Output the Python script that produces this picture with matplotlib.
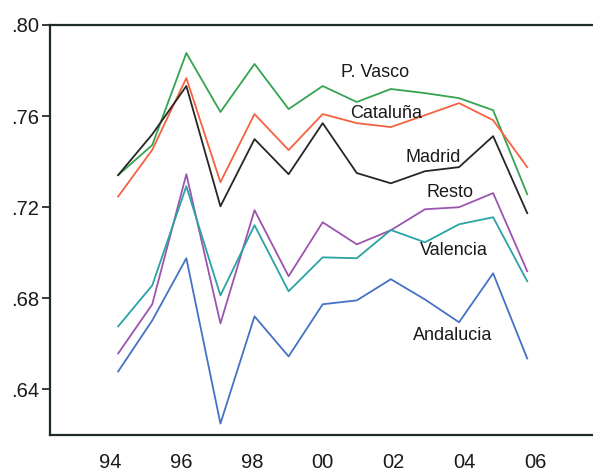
import matplotlib
matplotlib.use("Agg")
import matplotlib.pyplot as plt
from matplotlib.ticker import FuncFormatter

plt.rcParams['font.family'] = ['Liberation Sans', 'DejaVu Sans']

years = list(range(1994, 2007))

# series values
p_vasco   = [0.7341, 0.7473, 0.7877, 0.7618, 0.7829, 0.7631, 0.7732, 0.7662, 0.7719, 0.7701, 0.7679, 0.7626, 0.7257]
cataluna  = [0.7247, 0.7452, 0.7767, 0.7310, 0.7609, 0.7451, 0.7609, 0.7569, 0.7552, 0.7604, 0.7657, 0.7582, 0.7376]
madrid    = [0.7341, 0.7520, 0.7732, 0.7204, 0.7499, 0.7345, 0.7569, 0.7350, 0.7305, 0.7358, 0.7376, 0.7512, 0.7174]
resto     = [0.6558, 0.6774, 0.7345, 0.6690, 0.7187, 0.6897, 0.7134, 0.7037, 0.7099, 0.7191, 0.7200, 0.7262, 0.6919]
valencia  = [0.6677, 0.6857, 0.7292, 0.6813, 0.7121, 0.6831, 0.6980, 0.6976, 0.7100, 0.7046, 0.7125, 0.7156, 0.6875]
andalucia = [0.6479, 0.6703, 0.6976, 0.6250, 0.6721, 0.6545, 0.6774, 0.6791, 0.6884, 0.6795, 0.6695, 0.6910, 0.6536]

series = [
    ("P. Vasco", p_vasco, "#35a352", (2001.55, 0.7793)),
    ("Cataluña", cataluna, "#f4623f", (2001.86, 0.7613)),
    ("Madrid", madrid, "#262626", (2003.24, 0.7420)),
    ("Resto", resto, "#9b55b0", (2003.74, 0.7266)),
    ("Valencia", valencia, "#2aa3a3", (2003.85, 0.7011)),
    ("Andalucia", andalucia, "#4472c4", (2003.82, 0.6637)),
]

tick_years = [1994, 1996, 1998, 2000, 2002, 2004, 2006]

fig = plt.figure(figsize=(5.93, 4.72), dpi=100)
ax = fig.add_axes([50 / 593, 37 / 472, 543 / 593, 410 / 472])

for name, vals, color, (lx, ly) in series:
    ax.plot(years, vals, color=color, linewidth=1.3)
    ax.text(lx, ly, name, fontsize=13, color="#1a1a1a", ha="center", va="center")

ax.set_xlim(1992.0, 2007.93)
ax.set_ylim(0.62, 0.80)

# labels sit slightly wider apart than the yearly points
ax.set_xticks([2000 + (y - 2000) * 1.04 for y in tick_years])
ax.set_xticklabels([f"{y % 100:02d}" for y in tick_years])
ax.set_yticks([0.64, 0.68, 0.72, 0.76, 0.80])
ax.yaxis.set_major_formatter(FuncFormatter(lambda v, _: f"{v:.2f}".lstrip("0")))

ax.tick_params(axis="x", length=0, pad=13, labelsize=14.5, colors="#1a1a1a")
ax.tick_params(axis="y", length=6, width=1.2, pad=2, labelsize=14.5,
               colors="#1a1a1a", direction="out")

for side in ["left", "top", "bottom"]:
    ax.spines[side].set_linewidth(1.6)
    ax.spines[side].set_color("#1f2a2a")
ax.spines["right"].set_visible(False)

fig.savefig("out.png", dpi=100)
